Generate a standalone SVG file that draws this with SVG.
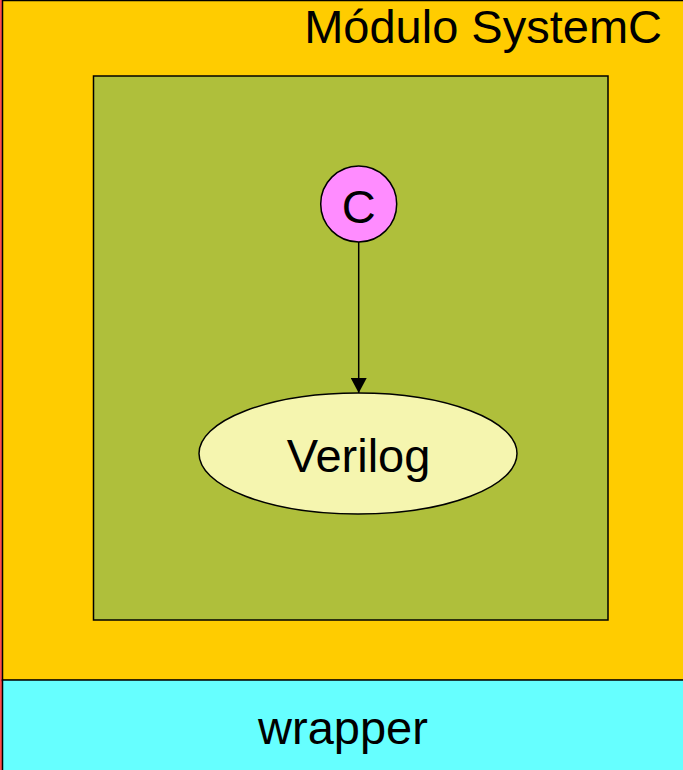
<svg xmlns="http://www.w3.org/2000/svg" width="683" height="770" viewBox="0 0 683 770">
  <defs>
    <style>
      .lbl { font-family: "Liberation Sans", Arial, sans-serif; font-size: 47px; fill: #000; }
      .edge { stroke: #000; stroke-width: 1.5; fill: none; }
    </style>
    <marker id="arrow" markerWidth="16" markerHeight="16" refX="15" refY="8" orient="auto" markerUnits="userSpaceOnUse">
      <path d="M0,0 L15,8 L0,16 Z" fill="#000"/>
    </marker>
  </defs>

  <!-- outer SystemC module -->
  <g id="modulo">
    <rect x="0" y="0" width="683" height="770" fill="#FF4D4D"/>
    <rect x="2.5" y="0.5" width="684" height="680" fill="#FFCC00" stroke="#000" stroke-width="1.5"/>
    <text class="lbl" x="662" y="43" text-anchor="end">Módulo SystemC</text>
  </g>

  <!-- wrapper band -->
  <g id="wrapper">
    <rect x="2.5" y="680" width="684" height="95" fill="#66FFFF" stroke="#000" stroke-width="1.5"/>
    <text class="lbl" x="343" y="744" text-anchor="middle">wrapper</text>
  </g>

  <!-- inner block -->
  <g id="bloque">
    <rect x="93.5" y="76" width="514.5" height="544" fill="#AFBF3B" stroke="#000" stroke-width="1.5"/>
  </g>

  <!-- connectors -->
  <g id="connectors">
    <line class="edge" x1="358.7" y1="242" x2="358.7" y2="393" marker-end="url(#arrow)"/>
  </g>

  <g id="c">
    <circle cx="358.7" cy="204" r="38" fill="#FF8CFF" stroke="#000" stroke-width="1.5"/>
    <text class="lbl" x="358.7" y="223" text-anchor="middle">C</text>
  </g>

  <g id="verilog">
    <ellipse cx="358" cy="453.5" rx="159" ry="60.5" fill="#F5F5AF" stroke="#000" stroke-width="1.5"/>
    <text class="lbl" x="358.5" y="472" text-anchor="middle">Verilog</text>
  </g>
</svg>
